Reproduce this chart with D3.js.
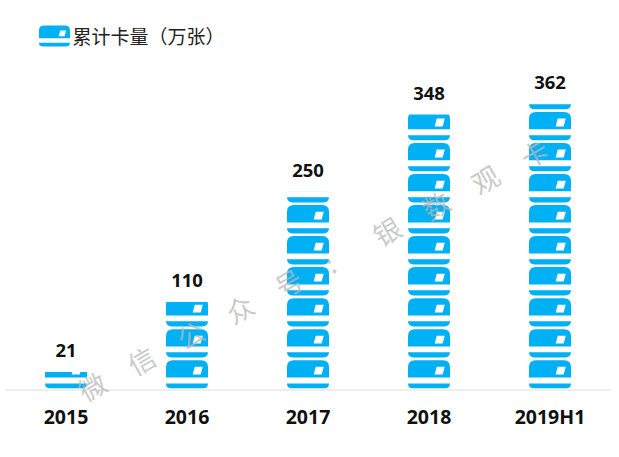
<!DOCTYPE html>
<html>
<head>
<meta charset="utf-8">
<script src="https://cdnjs.cloudflare.com/ajax/libs/d3/7.8.5/d3.min.js"></script>
<style>
  html, body { margin: 0; padding: 0; background: #fff; }
  text { font-family: "Noto Sans", "Noto Sans CJK SC", sans-serif; }
</style>
</head>
<body>
<svg id="chart" width="619" height="457"></svg>
<script>
// Data
const categories = ["2015", "2016", "2017", "2018", "2019H1"];
const cardCounts = [21, 110, 250, 348, 362];
const unitPerCard = 39.4; // one stacked card stands for about this many 万张
const legendLabel = "累计卡量（万张）";
const watermarkChars = ["微", "信", "公", "众", "号", ":", "银", "数", "观", "卡"];

const blue = "#00b0f5";
const svg = d3.select("#chart");

const x = d3.scaleBand().domain(categories).range([5.5, 610.5]);
const y = d3.scaleLinear().domain([0, 362]).range([388.5, 103.5]);
const barW = 42;

// one card, drawn in a box of w x h with its bottom left at 0,0 (y goes up negative)
function drawCard(g, w, h) {
  const stripeH = h * 0.165, gap = h * 0.19, bodyH = h * 0.558;
  const r1 = h * 0.18, r2 = h * 0.22;
  const s = d3.path();
  s.moveTo(0, -stripeH);
  s.lineTo(w, -stripeH);
  s.quadraticCurveTo(w, 0, w - r1, 0);
  s.lineTo(r1, 0);
  s.quadraticCurveTo(0, 0, 0, -stripeH);
  s.closePath();
  const bTop = -(stripeH + gap + bodyH), bBot = -(stripeH + gap);
  s.moveTo(0, bBot);
  s.lineTo(w, bBot);
  s.lineTo(w, bTop + r2);
  s.quadraticCurveTo(w, bTop, w - r2, bTop);
  s.lineTo(r2, bTop);
  s.quadraticCurveTo(0, bTop, 0, bTop + r2);
  s.closePath();
  g.append("path").attr("d", s.toString()).attr("fill", blue);

  // little white chip
  const wTop = bTop + bodyH * 0.38, wBot = bTop + bodyH * 0.83;
  const c = d3.path();
  c.moveTo(w * 0.685, wTop);
  c.lineTo(w * 0.875, wTop);
  c.lineTo(w * 0.825, wBot);
  c.lineTo(w * 0.635, wBot);
  c.closePath();
  g.append("path").attr("d", c.toString()).attr("fill", "#fff");
}

// legend
const legendIcon = svg.append("g").attr("transform", "translate(39,46.5)");
drawCard(legendIcon, 31, 23);
svg.append("text")
  .attr("x", 72.5).attr("y", 44)
  .attr("font-size", 19)
  .attr("fill", "#222")
  .style("font-family", '"Noto Sans CJK SC", sans-serif')
  .text(legendLabel);

// stacked cards clipped at each value
const defs = svg.append("defs");
const cardH = y(0) - y(unitPerCard);

categories.forEach((cat, i) => {
  const left = x(cat) + x.bandwidth() / 2 - barW / 2;
  defs.append("clipPath").attr("id", `clip${i}`)
    .append("rect")
    .attr("x", left)
    .attr("y", y(cardCounts[i]))
    .attr("width", barW)
    .attr("height", y(0) - y(cardCounts[i]));

  const bar = svg.append("g").attr("clip-path", `url(#clip${i})`);
  d3.range(Math.ceil(cardCounts[i] / unitPerCard)).forEach((k) => {
    const g = bar.append("g")
      .attr("transform", `translate(${left},${y(k * unitPerCard)})`);
    drawCard(g, barW, cardH);
  });

  svg.append("text")
    .attr("x", x(cat) + x.bandwidth() / 2)
    .attr("y", y(cardCounts[i]) - 15)
    .attr("text-anchor", "middle")
    .attr("font-size", 18.5)
    .attr("font-weight", 700)
    .attr("fill", "#111")
    .text(cardCounts[i]);
});

// x axis
const axis = svg.append("g")
  .attr("transform", `translate(0,${y(0) + 1})`)
  .call(d3.axisBottom(x).tickSize(0).tickPadding(21));
axis.select(".domain").attr("stroke", "#dedede");
axis.selectAll("text")
  .attr("font-size", 19.5)
  .attr("font-weight", 700)
  .attr("fill", "#111")
  .style("font-family", '"Noto Sans", sans-serif');

// watermark along the diagonal
const wmX = d3.scaleLinear().domain([0, 9]).range([92, 534]);
const wmY = d3.scaleLinear().domain([0, 9]).range([386, 153]);
watermarkChars.forEach((ch, i) => {
  const isColon = ch === ":";
  svg.append("text")
    .attr("transform", `translate(${wmX(i) - (isColon ? 8 : 0)},${wmY(i) + (isColon ? 6 : 0)}) rotate(-30)`)
    .attr("text-anchor", "middle")
    .attr("dominant-baseline", "central")
    .attr("font-size", 27)
    .attr("fill", "#b8b8b8")
    .attr("fill-opacity", 0.75)
    .style("font-family", '"Noto Sans CJK SC", sans-serif')
    .text(ch);
});
</script>
</body>
</html>
